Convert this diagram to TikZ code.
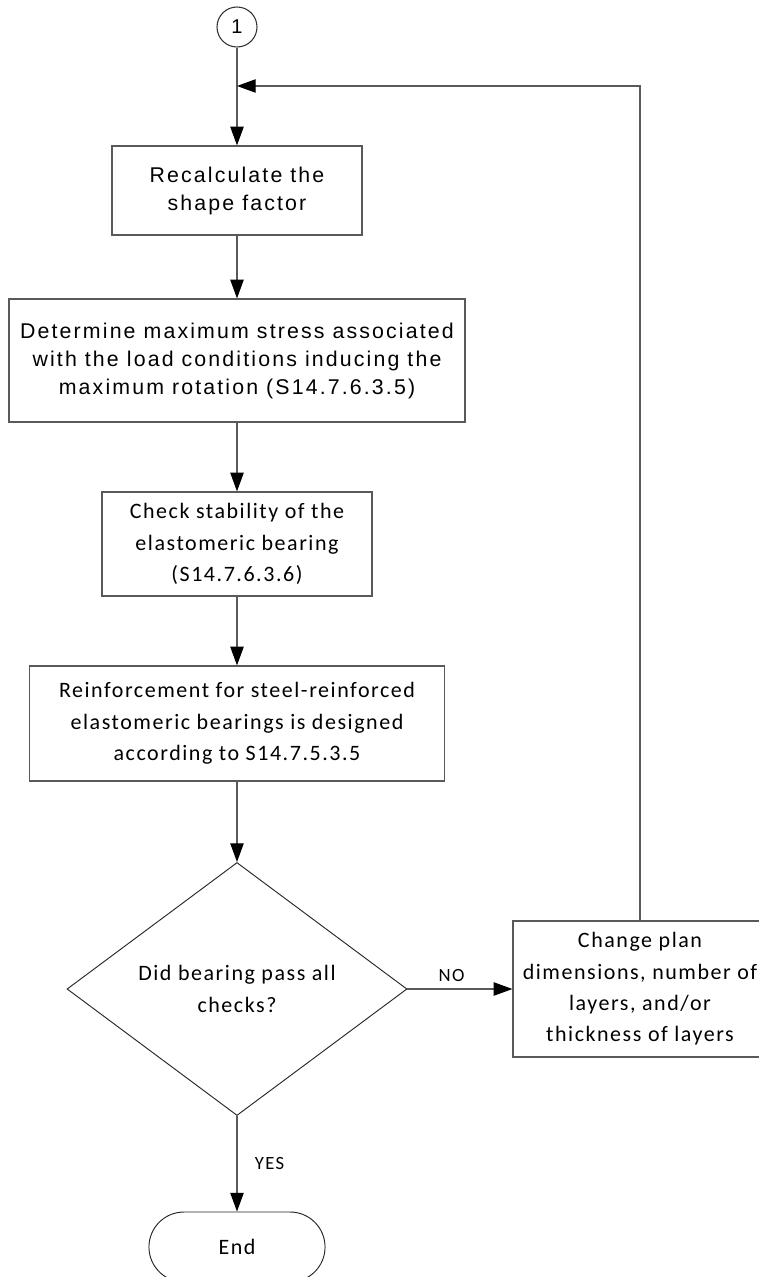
\documentclass[tikz,border=0pt]{standalone}
\usepackage{fontspec}
\usetikzlibrary{arrows.meta,shapes.geometric,shapes.misc}
\newfontfamily\arialfont[LetterSpace=10]{Liberation Sans}
\newfontfamily\plainarial{Liberation Sans}
\newfontfamily\calfont[LetterSpace=7]{Carlito}

\begin{document}
\begin{tikzpicture}[x=0.75pt, y=-0.75pt,
    box/.style={rectangle, draw=black!65, line width=0.9pt, align=center, inner sep=2pt},
    arr/.style={draw=black!65, line width=0.9pt, -{Triangle[length=14pt,width=10pt,color=black]}},
    arialtxt/.style={font=\arialfont\fontsize{16}{21}\selectfont},
    caltxt/.style={font=\calfont\fontsize{16.5}{23.5}\selectfont},
    lbl/.style={font=\calfont\fontsize{14}{16}\selectfont, inner sep=2pt}]

    % Page frame
    \useasboundingbox (0,0) rectangle (758,1277);

    % Connector from page 1
    \node[circle, draw=black!80, line width=0.8pt, minimum size=30pt, inner sep=0pt,
          font=\plainarial\fontsize{15}{17}\selectfont] (c1) at (237,27) {1};

    % Process steps
    \node[box, arialtxt, minimum width=187.5pt, minimum height=66.75pt] (recalc) at (237,190.5)
        {Recalculate the\\shape factor};
    \node[box, arialtxt, minimum width=342pt, minimum height=92.25pt] (maxstress) at (237,360.5)
        {Determine maximum stress associated\\with the load conditions inducing the\\maximum rotation (S14.7.6.3.5)};
    \node[box, caltxt, minimum width=202.5pt, minimum height=78pt] (stability) at (237,544)
        {Check stability of the\\elastomeric bearing\\(S14.7.6.3.6)};
    \node[box, caltxt, minimum width=311.25pt, minimum height=86.25pt] (reinf) at (237,723.5)
        {Reinforcement for steel-reinforced\\elastomeric bearings is designed\\according to S14.7.5.3.5};

    % Decision
    \node[diamond, draw=black!85, line width=0.7pt, caltxt, align=center, inner sep=0pt,
          minimum width=255pt, minimum height=189.75pt] (passed) at (237,989)
        {Did bearing pass all\\checks?};
    \node[box, caltxt, minimum width=190.5pt, minimum height=102pt] (change) at (640,989)
        {Change plan\\dimensions, number of\\layers, and/or\\thickness of layers};

    % Terminator
    \node[rounded rectangle, draw=black!85, line width=0.7pt, caltxt,
          minimum width=138.75pt, minimum height=52.5pt] (end) at (237,1247) {End};

    % Arrows
    \coordinate (join) at (237,86);
    \draw[arr] (c1.south) -- (recalc.north);
    \draw[arr] (change.north) |- (join);
    \draw[arr] (recalc.south) -- (maxstress.north);
    \draw[arr] (maxstress.south) -- (stability.north);
    \draw[arr] (stability.south) -- (reinf.north);
    \draw[arr] (reinf.south) -- (passed.north);
    \draw[arr] (passed.east) -- node[lbl, above=3pt, pos=0.42] {NO} (change.west);
    \draw[arr] (passed.south) -- node[lbl, right=11pt] {YES} (end.north);
\end{tikzpicture}
\end{document}
